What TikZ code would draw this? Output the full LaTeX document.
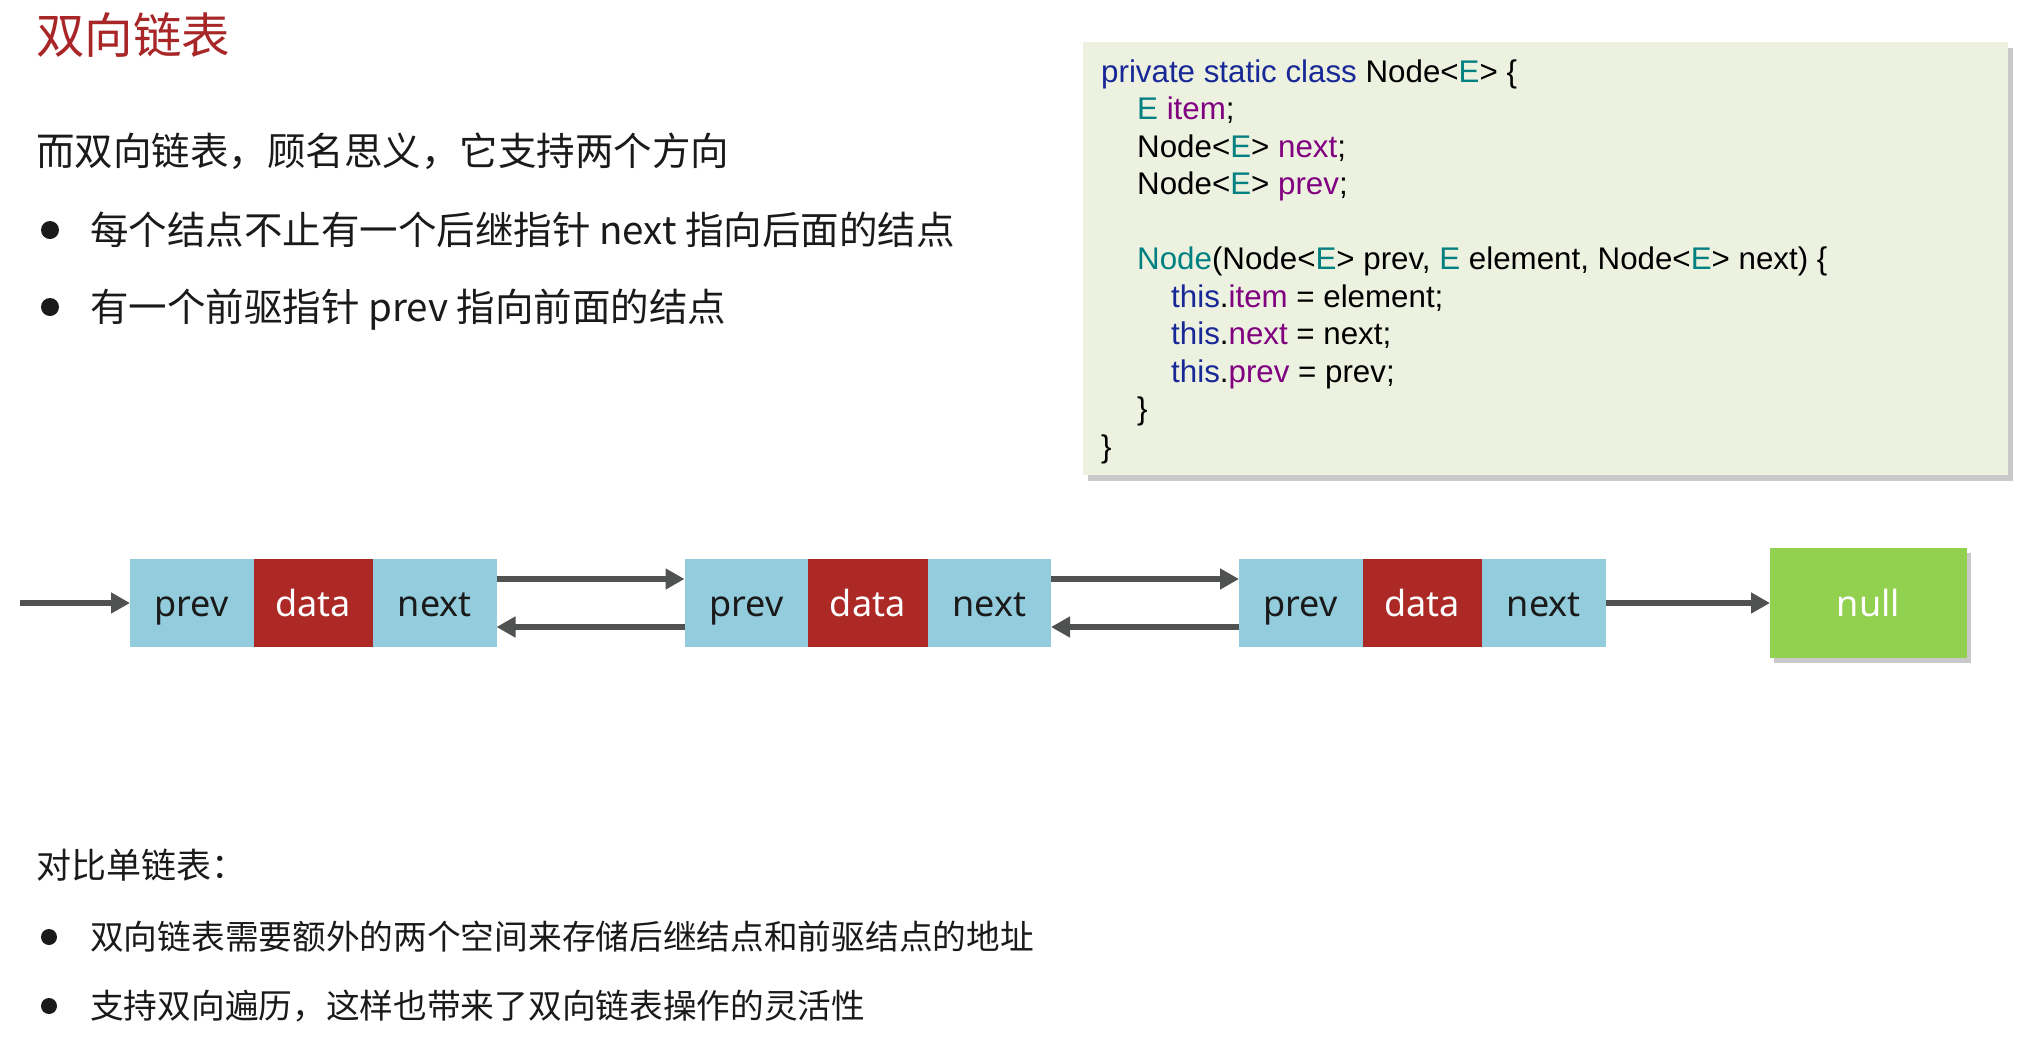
\documentclass[tikz,border=0pt]{standalone}
\usepackage{fontspec}
\usetikzlibrary{arrows.meta,shadows,positioning}
\newfontfamily\cjk{Noto Sans CJK SC}
\newfontfamily\codefont{Liberation Sans}
\newfontfamily\cellfont{Noto Sans}
\definecolor{titlered}{RGB}{168,38,40}
\definecolor{txt}{RGB}{26,26,26}
\definecolor{codebg}{RGB}{236,241,224}
\definecolor{ckw}{RGB}{24,40,150}
\definecolor{ctype}{RGB}{0,128,128}
\definecolor{cfield}{RGB}{128,0,128}
\definecolor{cellblue}{RGB}{147,205,221}
\definecolor{celldata}{RGB}{172,41,38}
\definecolor{nullgreen}{RGB}{146,208,80}
\definecolor{arrowgray}{RGB}{80,82,82}
\newcommand\cK[1]{\textcolor{ckw}{#1}}
\newcommand\cT[1]{\textcolor{ctype}{#1}}
\newcommand\cF[1]{\textcolor{cfield}{#1}}
\begin{document}
\begin{tikzpicture}[x=1pt,y=-1pt,
  bigtxt/.style={anchor=base west, inner sep=0, text=txt, font=\cjk\fontsize{38.5}{46}\selectfont},
  smalltxt/.style={anchor=base west, inner sep=0, text=txt, font=\cjk\fontsize{33.7}{40}\selectfont},
  bul/.style={circle, fill=txt, inner sep=0, minimum size=#1},
  codeline/.style={anchor=base west, inner sep=0, text=black, font=\codefont\fontsize{31.3}{37}\selectfont},
  codebox/.style={fill=codebg, draw=none, anchor=north west, minimum width=925pt, minimum height=433pt,
     drop shadow={shadow xshift=5pt, shadow yshift=-6pt, opacity=0.3, fill=black!70}},
  cellbase/.style={inner sep=0, outer sep=0, minimum height=88pt, text height=36pt, text depth=8.8pt,
     font=\cellfont\fontsize{36}{40}\selectfont},
  ptr/.style={cellbase, fill=cellblue, text=txt, minimum width=123.5pt},
  dat/.style={cellbase, fill=celldata, text=white, minimum width=119.5pt},
  nullbox/.style={cellbase, fill=nullgreen, text=white, minimum width=197pt, minimum height=110pt,
     drop shadow={shadow xshift=4pt, shadow yshift=-5pt, opacity=0.3, fill=black!70}},
  arr/.style={draw=arrowgray, line width=6.5pt, -{Triangle[length=19pt,width=20pt]}}
]
\useasboundingbox (0,0) rectangle (2024,1042);

% title and texts
\node[anchor=base west, inner sep=0, text=titlered, font=\cjk\fontsize{48.5}{55}\selectfont] (title) at (36,53.5) {双向链表};
\node[bigtxt] (intro) at (36,165) {而双向链表，顾名思义，它支持两个方向};
\node[bul=18pt] (b1) at (50,230) {};
\node[bigtxt] (t1) at (90,244) {每个结点不止有一个后继指针 next 指向后面的结点};
\node[bul=18pt] (b2) at (50,307) {};
\node[bigtxt] (t2) at (90,321) {有一个前驱指针 prev 指向前面的结点};

\node[anchor=base west, inner sep=0, text=txt, font=\cjk\fontsize{35}{42}\selectfont] (cmp) at (36,878) {对比单链表：};
\node[bul=16pt] (b3) at (49,937) {};
\node[smalltxt] (t3) at (90,949) {双向链表需要额外的两个空间来存储后继结点和前驱结点的地址};
\node[bul=16pt] (b4) at (49,1006) {};
\node[smalltxt] (t4) at (90,1018) {支持双向遍历，这样也带来了双向链表操作的灵活性};

% code box
\node[codebox] (code) at (1083,42) {};
\node[codeline] (c1) at (1101,82) {\cK{private static class} Node<\cT{E}> \{};
\node[codeline] (c2) at (1137,119.5) {\cT{E} \cF{item};};
\node[codeline] (c3) at (1137,157) {Node<\cT{E}> \cF{next};};
\node[codeline] (c4) at (1137,194.5) {Node<\cT{E}> \cF{prev};};
\node[codeline] (c6) at (1137,269.5) {\cT{Node}(Node<\cT{E}> prev, \cT{E} element, Node<\cT{E}> next) \{};
\node[codeline] (c7) at (1171,307) {\cK{this}.\cF{item} = element;};
\node[codeline] (c8) at (1171,344.5) {\cK{this}.\cF{next} = next;};
\node[codeline] (c9) at (1171,382) {\cK{this}.\cF{prev} = prev;};
\node[codeline] (c10) at (1137,419.5) {\}};
\node[codeline] (c11) at (1101,457) {\}};

% list nodes
\node[ptr, anchor=north west] (p1) at (130,559) {prev};
\node[dat, right=0pt of p1] (d1) {data};
\node[ptr, right=0pt of d1] (n1) {next};
\node[ptr, anchor=north west] (p2) at (684.5,559) {prev};
\node[dat, right=0pt of p2] (d2) {data};
\node[ptr, right=0pt of d2] (n2) {next};
\node[ptr, anchor=north west] (p3) at (1239,559) {prev};
\node[dat, right=0pt of p3] (d3) {data};
\node[ptr, right=0pt of d3] (n3) {next};
\node[nullbox, anchor=north west] (null) at (1770,548) {null};

% connectors
\coordinate (in) at (20,603);
\draw[arr] (in) -- (p1.west);
\draw[arr] ([yshift=24pt]n1.east) -- ([yshift=24pt]p2.west);
\draw[arr] ([yshift=-24pt]p2.west) -- ([yshift=-24pt]n1.east);
\draw[arr] ([yshift=24pt]n2.east) -- ([yshift=24pt]p3.west);
\draw[arr] ([yshift=-24pt]p3.west) -- ([yshift=-24pt]n2.east);
\draw[arr] (n3.east) -- (null.west);
\end{tikzpicture}
\end{document}
